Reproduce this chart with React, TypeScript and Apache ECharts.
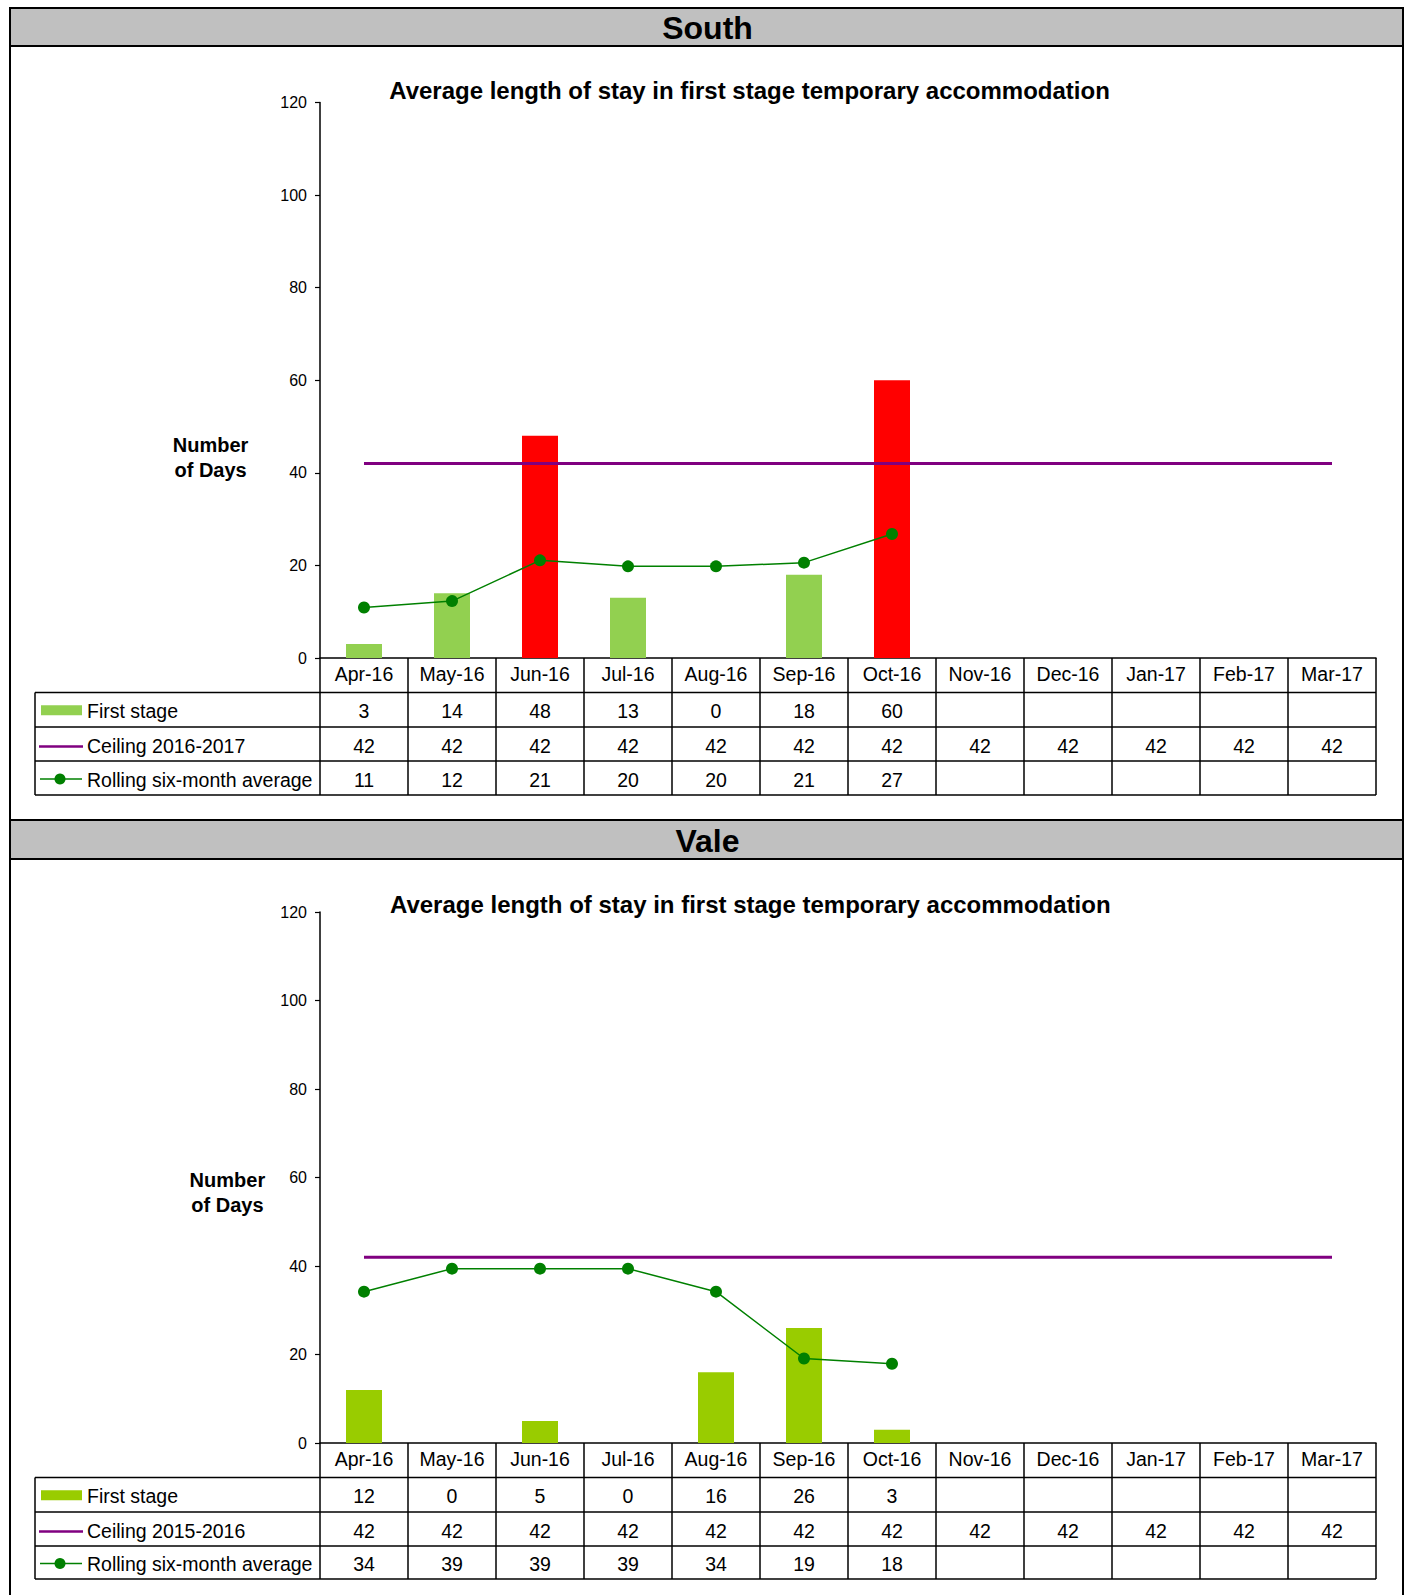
import React, { useEffect, useRef } from "react";
import * as echarts from "echarts";

// ---------- DATA ----------
const months = ["Apr-16", "May-16", "Jun-16", "Jul-16", "Aug-16", "Sep-16", "Oct-16", "Nov-16", "Dec-16", "Jan-17", "Feb-17", "Mar-17"];

const southFirstStage = [3, 14, 48, 13, 0, 18, 60, null, null, null, null, null];
const southCeiling = [42, 42, 42, 42, 42, 42, 42, 42, 42, 42, 42, 42];
const southRolling = [10.9, 12.3, 21.1, 19.8, 19.8, 20.6, 26.8, null, null, null, null, null];

const valeFirstStage = [12, 0, 5, 0, 16, 26, 3, null, null, null, null, null];
const valeCeiling = [42, 42, 42, 42, 42, 42, 42, 42, 42, 42, 42, 42];
const valeRolling = [34.2, 39.4, 39.4, 39.4, 34.2, 19.1, 17.9, null, null, null, null, null];

const rowLabels = ["First stage", "Rolling six-month average"];
const southCeilingLabel = "Ceiling 2016-2017";
const valeCeilingLabel = "Ceiling 2015-2016";
const chartTitle = "Average length of stay in first stage temporary accommodation";
const yAxisTitle = "Number\nof Days";

// ---------- LAYOUT / STYLE ----------
const FONT = "'Liberation Sans', Arial, Helvetica, sans-serif";
const W = 1409;
const H = 1595;
const BOX_L = 10;
const BOX_R = 1403;
const GRID_L = 320;
const GRID_R = 1376;
const LEG_L = 35;
const TABLE_FS = 19.5;

const panels = [
  {
    name: "South",
    ceilingLabel: southCeilingLabel,
    first: southFirstStage,
    ceiling: southCeiling,
    rolling: southRolling,
    barColor: "#92D050",
    overColor: "#FF0000",
    bandTop: 8,
    bandBottom: 46,
    titleX: 749.5,
    titleY: 90.5,
    gridTop: 102.6,
    gridBottom: 658,
    rows: [658, 692.5, 727, 761, 795],
    nameX: 210.6,
    nameY: 457,
  },
  {
    name: "Vale",
    ceilingLabel: valeCeilingLabel,
    first: valeFirstStage,
    ceiling: valeCeiling,
    rolling: valeRolling,
    barColor: "#99CC00",
    overColor: "#FF0000",
    bandTop: 820,
    bandBottom: 859,
    titleX: 750.3,
    titleY: 904.4,
    gridTop: 912,
    gridBottom: 1443,
    rows: [1443, 1477.5, 1512, 1546, 1579],
    nameX: 227.4,
    nameY: 1192,
  },
];

function buildBase() {
  const grid: any[] = [];
  const xAxis: any[] = [];
  const yAxis: any[] = [];
  const series: any[] = [];
  panels.forEach((p, k) => {
    grid.push({
      left: GRID_L,
      top: p.gridTop,
      width: GRID_R - GRID_L,
      height: p.gridBottom - p.gridTop,
      containLabel: false,
    });
    xAxis.push({
      gridIndex: k,
      type: "category",
      data: months,
      boundaryGap: true,
      axisLine: { show: true, lineStyle: { color: "#000", width: 1.5 } },
      axisTick: {
        show: true,
        interval: 0,
        length: p.rows[4] - p.rows[0],
        lineStyle: { color: "#000", width: 1.5 },
      },
      axisLabel: {
        interval: 0,
        color: "#000",
        fontSize: TABLE_FS,
        fontFamily: FONT,
        margin: 16,
        verticalAlign: "middle",
      },
      splitLine: { show: false },
    });
    yAxis.push({
      gridIndex: k,
      type: "value",
      min: 0,
      max: 120,
      interval: 20,
      axisLine: { show: true, lineStyle: { color: "#000", width: 1.5 } },
      axisTick: { show: true, length: 5, lineStyle: { color: "#000", width: 1.2 } },
      axisLabel: { color: "#000", fontSize: 16, fontFamily: FONT, margin: 13 },
      splitLine: { show: false },
    });
    series.push({
      name: rowLabels[0],
      type: "bar",
      xAxisIndex: k,
      yAxisIndex: k,
      data: p.first,
      barWidth: 36,
      itemStyle: {
        color: (params: any) =>
          params.value != null && params.value > p.ceiling[params.dataIndex] ? p.overColor : p.barColor,
      },
      z: 2,
    });
    series.push({
      name: p.ceilingLabel,
      type: "line",
      xAxisIndex: k,
      yAxisIndex: k,
      data: p.ceiling,
      symbol: "none",
      lineStyle: { color: "#800080", width: 3 },
      z: 3,
    });
    series.push({
      name: rowLabels[1],
      type: "line",
      xAxisIndex: k,
      yAxisIndex: k,
      data: p.rolling,
      symbol: "circle",
      symbolSize: 12,
      itemStyle: { color: "#008000" },
      lineStyle: { color: "#008000", width: 1.5 },
      z: 4,
    });
  });
  return {
    animation: false,
    backgroundColor: "#ffffff",
    grid,
    xAxis,
    yAxis,
    series,
  };
}

function fmt(v: number | null) {
  return v == null ? "" : String(Math.round(v));
}

function buildGraphic(chart: any) {
  const els: any[] = [];
  const black = "#000";
  // outer frame
  els.push({ type: "line", shape: { x1: BOX_L, y1: 8, x2: BOX_L, y2: H }, style: { stroke: black, lineWidth: 2 } });
  els.push({ type: "line", shape: { x1: BOX_R, y1: 8, x2: BOX_R, y2: H }, style: { stroke: black, lineWidth: 2 } });

  panels.forEach((p, k) => {
    // header band
    els.push({
      type: "rect",
      shape: { x: BOX_L, y: p.bandTop, width: BOX_R - BOX_L, height: p.bandBottom - p.bandTop },
      style: { fill: "#C0C0C0", stroke: black, lineWidth: 2 },
    });
    els.push({
      type: "text",
      x: (BOX_L + BOX_R) / 2 + 1,
      y: (p.bandTop + p.bandBottom) / 2 + 1,
      style: {
        text: p.name,
        fontSize: 32,
        fontWeight: "bold",
        fontFamily: FONT,
        fill: black,
        align: "center",
        verticalAlign: "middle",
      },
    });
    // chart title
    els.push({
      type: "text",
      x: p.titleX,
      y: p.titleY,
      style: {
        text: chartTitle,
        fontSize: 24,
        fontWeight: "bold",
        fontFamily: FONT,
        fill: black,
        align: "center",
        verticalAlign: "middle",
      },
    });
    // y axis title
    els.push({
      type: "text",
      x: p.nameX,
      y: p.nameY,
      style: {
        text: yAxisTitle,
        fontSize: 20,
        lineHeight: 25,
        fontWeight: "bold",
        fontFamily: FONT,
        fill: black,
        align: "center",
        verticalAlign: "middle",
      },
    });
    // table horizontal lines
    for (let r = 1; r < p.rows.length; r++) {
      els.push({
        type: "line",
        shape: { x1: LEG_L, y1: p.rows[r], x2: GRID_R, y2: p.rows[r] },
        style: { stroke: black, lineWidth: 1.5 },
      });
    }
    els.push({
      type: "line",
      shape: { x1: LEG_L, y1: p.rows[1], x2: LEG_L, y2: p.rows[4] },
      style: { stroke: black, lineWidth: 1.5 },
    });
    const rc = [1, 2, 3].map((r) => (p.rows[r] + p.rows[r + 1]) / 2 + 1.5);
    // legend keys
    els.push({
      type: "rect",
      shape: { x: 41, y: rc[0] - 6, width: 41, height: 10 },
      style: { fill: p.barColor },
    });
    els.push({
      type: "line",
      shape: { x1: 39, y1: rc[1] + 1, x2: 83, y2: rc[1] + 1 },
      style: { stroke: "#800080", lineWidth: 2.5 },
    });
    els.push({
      type: "line",
      shape: { x1: 40, y1: rc[2] - 0.5, x2: 82, y2: rc[2] - 0.5 },
      style: { stroke: "#008000", lineWidth: 1.5 },
    });
    els.push({
      type: "circle",
      shape: { cx: 60, cy: rc[2] - 0.5, r: 5.5 },
      style: { fill: "#008000" },
    });
    const labels = [rowLabels[0], p.ceilingLabel, rowLabels[1]];
    labels.forEach((t, i) => {
      els.push({
        type: "text",
        x: 87,
        y: rc[i],
        style: { text: t, fontSize: TABLE_FS, fontFamily: FONT, fill: black, align: "left", verticalAlign: "middle" },
      });
    });
    // values
    const rowsData = [p.first, p.ceiling, p.rolling];
    const colW = (GRID_R - GRID_L) / months.length;
    months.forEach((m, i) => {
      let cx = chart.convertToPixel({ xAxisIndex: k }, i);
      if (typeof cx !== "number" || isNaN(cx)) cx = GRID_L + (i + 0.5) * colW;
      rowsData.forEach((arr, r) => {
        const s = fmt(arr[i] as any);
        if (!s) return;
        els.push({
          type: "text",
          x: cx,
          y: rc[r],
          style: { text: s, fontSize: TABLE_FS, fontFamily: FONT, fill: black, align: "center", verticalAlign: "middle" },
        });
      });
    });
  });
  return els;
}

export default function App() {
  const ref = useRef<HTMLDivElement>(null);
  useEffect(() => {
    if (!ref.current) return;
    const chart = echarts.init(ref.current, undefined, { renderer: "svg" });
    chart.setOption(buildBase() as any);
    chart.setOption({ graphic: buildGraphic(chart) } as any);
    return () => chart.dispose();
  }, []);
  return (
    <div
      ref={ref}
      style={{ position: "absolute", left: 0, top: 0, width: W, height: H, background: "#fff" }}
    />
  );
}
